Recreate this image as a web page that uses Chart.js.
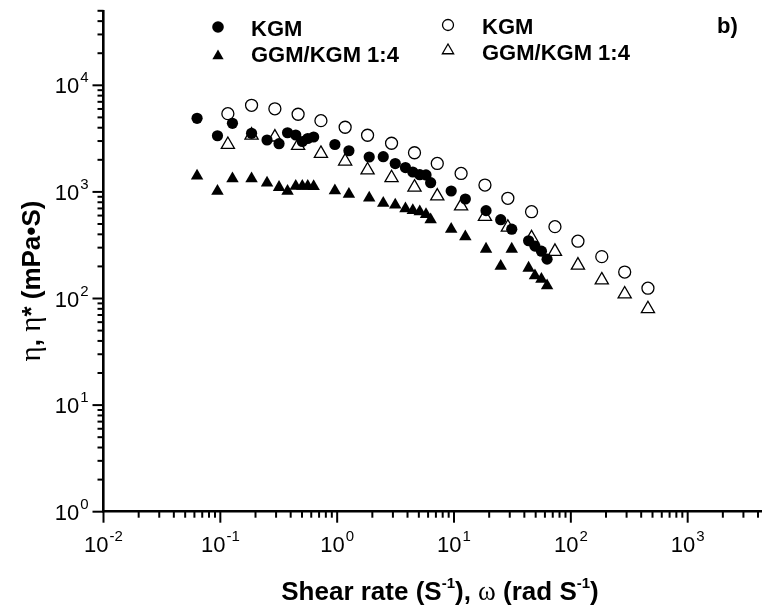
<!DOCTYPE html>
<html>
<head>
<meta charset="utf-8">
<script src="https://cdn.jsdelivr.net/npm/chart.js@4"></script>
<style>
  body { margin: 0; background: #fff; }
  #wrap { width: 770px; height: 611px; }
</style>
</head>
<body>
<div id="wrap"><canvas id="myChart"></canvas></div>
<script>
// steady shear (filled symbols)
const shearRate = [0.0632, 0.0945, 0.127, 0.185, 0.251, 0.318, 0.376, 0.442, 0.503, 0.560, 0.629, 0.956, 1.26, 1.88, 2.48, 3.14, 3.84, 4.44, 5.09, 5.76, 6.31, 9.46, 12.5, 18.8, 25.1, 31.2, 43.5, 49.3, 56.0, 62.6];
const etaKGM = [4900, 3365, 4400, 3545, 3070, 2833, 3590, 3420, 2970, 3170, 3275, 2785, 2434, 2125, 2140, 1846, 1693, 1537, 1450, 1442, 1220, 1020, 858, 667, 549, 447, 348, 310, 278, 234];
const etaBlend = [1410, 1015, 1330, 1330, 1215, 1105, 1015, 1130, 1130, 1130, 1125, 1025, 952, 878, 783, 754, 696, 669, 652, 614, 550, 447, 380, 291, 201, 291, 193, 164, 152, 132];

// oscillatory (open symbols)
const omega = [0.116, 0.185, 0.293, 0.463, 0.726, 1.17, 1.82, 2.92, 4.59, 7.19, 11.5, 18.4, 28.9, 46.1, 73.1, 115, 184, 289, 457];
const etaStarKGM = [5420, 6490, 6020, 5350, 4660, 4040, 3400, 2860, 2330, 1850, 1490, 1160, 871, 652, 472, 345, 247, 177, 125];
const etaStarBlend = [2780, 3400, 3260, 2715, 2290, 1940, 1600, 1355, 1105, 912, 735, 586, 465, 370, 276, 205, 149, 110, 80];

const seriesLabels = ["KGM", "GGM/KGM 1:4", "KGM", "GGM/KGM 1:4"];
const xDecades = [0.01, 0.1, 1, 10, 100, 1000];
const xTickExps = ["-2", "-1", "0", "1", "2", "3"];
const yDecades = [1, 10, 100, 1000, 10000];
const yTickExps = ["0", "1", "2", "3", "4"];

const sans = "Arial, 'Liberation Sans', sans-serif";
const serif = "'Times New Roman', 'Liberation Serif', serif";

function toPoints(xs, ys) {
  const pts = [];
  for (let i = 0; i < xs.length; i++) {
    pts.push({ x: xs[i], y: ys[i] });
  }
  return pts;
}

// draws a list of text pieces centered on cx, baseline at y
function drawRich(ctx, pieces, cx, y) {
  let total = 0;
  for (const p of pieces) {
    ctx.font = p.font;
    total += ctx.measureText(p.text).width;
  }
  let x = cx - total / 2;
  for (const p of pieces) {
    ctx.font = p.font;
    ctx.fillText(p.text, x, y - (p.dy || 0));
    x += ctx.measureText(p.text).width;
  }
}

function drawPower(ctx, x, y, exp, align) {
  ctx.font = "22px " + sans;
  const wBase = ctx.measureText("10").width;
  ctx.font = "15px " + sans;
  const wExp = ctx.measureText(exp).width;
  let left = align === "center" ? x - (wBase + wExp + 1) / 2 : x - wBase - wExp - 1;
  ctx.font = "22px " + sans;
  ctx.fillText("10", left, y);
  ctx.font = "15px " + sans;
  ctx.fillText(exp, left + wBase + 1, y - 11);
}

const decorations = {
  id: "decorations",
  afterDraw(chart) {
    const ctx = chart.ctx;
    const xs = chart.scales.x;
    const ys = chart.scales.y;
    const area = chart.chartArea;
    ctx.save();
    ctx.fillStyle = "#000";
    ctx.strokeStyle = "#000";
    ctx.lineWidth = 2;
    ctx.textAlign = "left";
    ctx.textBaseline = "alphabetic";

    // log ticks, major longer than minor
    for (let d = -2; d <= 4; d++) {
      for (let m = 1; m <= 9; m++) {
        const v = m * Math.pow(10, d);
        const len = m === 1 ? 11 : 6;
        if (v >= xs.min && v <= xs.max) {
          const px = xs.getPixelForValue(v);
          ctx.beginPath();
          ctx.moveTo(px, area.bottom);
          ctx.lineTo(px, area.bottom + len);
          ctx.stroke();
        }
        if (v >= ys.min && v <= ys.max) {
          const py = ys.getPixelForValue(v);
          ctx.beginPath();
          ctx.moveTo(area.left, py);
          ctx.lineTo(area.left - len, py);
          ctx.stroke();
        }
      }
    }

    for (let i = 0; i < xDecades.length; i++) {
      drawPower(ctx, xs.getPixelForValue(xDecades[i]), area.bottom + 40, xTickExps[i], "center");
    }
    for (let i = 0; i < yDecades.length; i++) {
      drawPower(ctx, area.left - 15, ys.getPixelForValue(yDecades[i]) + 8, yTickExps[i], "right");
    }

    // axis titles
    const bold = "bold 26px " + sans;
    const sup = "bold 15px " + sans;
    drawRich(ctx, [
      { text: "Shear rate (S", font: bold },
      { text: "-1", font: sup, dy: 12 },
      { text: "), ", font: bold },
      { text: "ω", font: "27px " + serif },
      { text: " (rad S", font: bold },
      { text: "-1", font: sup, dy: 12 },
      { text: ")", font: bold }
    ], 440, 600);

    ctx.save();
    ctx.translate(40, 281);
    ctx.rotate(-Math.PI / 2);
    drawRich(ctx, [
      { text: "η", font: "29px " + serif },
      { text: ", ", font: bold },
      { text: "η", font: "29px " + serif },
      { text: "* (mPa•S)", font: bold }
    ], 0, 0);
    ctx.restore();

    // legend, two columns
    const legendPos = [
      { sx: 218, sy: 27, tx: 251, ty: 36, r: 5.8 },
      { sx: 218, sy: 56, tx: 251, ty: 62, r: 6.5 },
      { sx: 448, sy: 25, tx: 482, ty: 33.5, r: 5.5 },
      { sx: 448, sy: 50.5, tx: 482, ty: 59.5, r: 6.5 }
    ];
    chart.data.datasets.forEach((ds, i) => {
      const p = legendPos[i];
      ctx.fillStyle = ds.pointBackgroundColor;
      ctx.strokeStyle = ds.pointBorderColor;
      ctx.lineWidth = ds.pointBorderWidth;
      Chart.helpers.drawPoint(ctx, {
        pointStyle: ds.pointStyle,
        radius: p.r,
        rotation: 0,
        borderWidth: ds.pointBorderWidth
      }, p.sx, p.sy);
      ctx.fillStyle = "#000";
      ctx.font = "bold 22px " + sans;
      ctx.fillText(seriesLabels[i], p.tx, p.ty);
    });
    ctx.font = "bold 22px " + sans;
    ctx.fillText("b)", 717, 33);
    ctx.restore();
  }
};

function renderChart() {
  const ctx = document.getElementById("myChart");

  new Chart(ctx, {
    type: "scatter",
    data: {
      datasets: [
        {
          label: seriesLabels[0],
          data: toPoints(shearRate, etaKGM),
          pointStyle: "circle",
          pointRadius: 5.6,
          pointBackgroundColor: "#000",
          pointBorderColor: "#000",
          pointBorderWidth: 0
        },
        {
          label: seriesLabels[1],
          data: toPoints(shearRate, etaBlend),
          pointStyle: "triangle",
          pointRadius: 7.2,
          pointBackgroundColor: "#000",
          pointBorderColor: "#000",
          pointBorderWidth: 0
        },
        {
          label: seriesLabels[2],
          data: toPoints(omega, etaStarKGM),
          pointStyle: "circle",
          pointRadius: 6,
          pointBackgroundColor: "rgba(0,0,0,0)",
          pointBorderColor: "#000",
          pointBorderWidth: 1.3
        },
        {
          label: seriesLabels[3],
          data: toPoints(omega, etaStarBlend),
          pointStyle: "triangle",
          pointRadius: 7.6,
          pointBackgroundColor: "rgba(0,0,0,0)",
          pointBorderColor: "#000",
          pointBorderWidth: 1.3
        }
      ]
    },
    options: {
      responsive: true,
      maintainAspectRatio: false,
      animation: false,
      layout: { padding: { left: 103.5, top: 10.8, right: 0, bottom: 99.3 } },
      plugins: { legend: { display: false }, tooltip: { enabled: false } },
      scales: {
        x: {
          type: "logarithmic",
          min: 0.01,
          max: 4250,
          grid: { display: false, drawTicks: false },
          ticks: { display: false },
          border: { display: true, color: "#000", width: 2.6 }
        },
        y: {
          type: "logarithmic",
          min: 1,
          max: 50000,
          grid: { display: false, drawTicks: false },
          ticks: { display: false },
          border: { display: true, color: "#000", width: 2.6 }
        }
      }
    },
    plugins: [decorations]
  });
}

renderChart();
</script>
</body>
</html>
